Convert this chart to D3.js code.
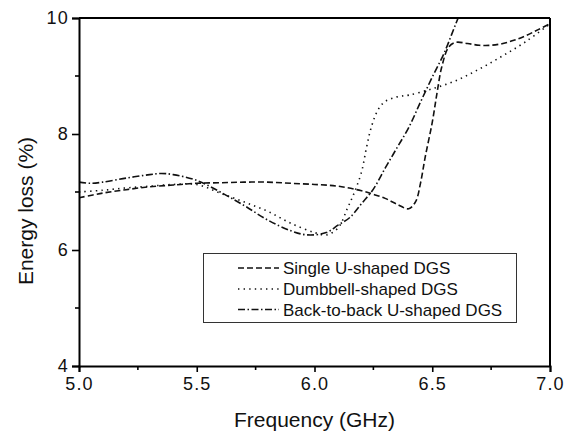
<!DOCTYPE HTML>
<html>
<head>
    <meta charset="UTF-8">
    <title></title>
    <style>
        body { margin: 0; background: #fff; }
        svg { font-family: "Liberation Sans", Arial, sans-serif; }
    </style>
    <script src="https://cdn.jsdelivr.net/npm/d3@7/dist/d3.min.js"></script>
</head>
<body>
<svg id="chart" width="572" height="439"></svg>
<script>
    // data
    var singleF = [5.0, 5.1, 5.2, 5.3, 5.4, 5.5, 5.6, 5.7, 5.8, 5.9, 6.0, 6.1, 6.2, 6.25, 6.3, 6.35, 6.4, 6.43, 6.45, 6.47, 6.5, 6.52, 6.54, 6.57, 6.6, 6.65, 6.7, 6.75, 6.8, 6.85, 6.9, 6.95, 7.0];
    var singleV = [6.9, 6.98, 7.04, 7.09, 7.12, 7.15, 7.16, 7.17, 7.17, 7.15, 7.13, 7.1, 7.02, 6.96, 6.89, 6.79, 6.71, 6.84, 7.15, 7.6, 8.2, 8.7, 9.15, 9.5, 9.58, 9.56, 9.53, 9.53, 9.56, 9.62, 9.7, 9.8, 9.9];

    var dumbF = [5.0, 5.1, 5.2, 5.3, 5.4, 5.5, 5.6, 5.7, 5.8, 5.9, 6.0, 6.05, 6.1, 6.14, 6.17, 6.2, 6.22, 6.24, 6.27, 6.3, 6.35, 6.4, 6.5, 6.6, 6.7, 6.8, 6.9, 7.0];
    var dumbV = [7.0, 7.03, 7.07, 7.1, 7.13, 7.13, 6.98, 6.83, 6.67, 6.46, 6.3, 6.26, 6.38, 6.72, 7.0, 7.35, 7.75, 8.1, 8.42, 8.56, 8.64, 8.67, 8.78, 8.92, 9.12, 9.35, 9.6, 9.9];

    var backF = [5.0, 5.05, 5.1, 5.2, 5.3, 5.35, 5.4, 5.5, 5.6, 5.7, 5.8, 5.9, 5.97, 6.05, 6.1, 6.15, 6.2, 6.25, 6.3, 6.35, 6.4, 6.45, 6.5, 6.55, 6.6, 6.65];
    var backV = [7.17, 7.15, 7.17, 7.24, 7.3, 7.32, 7.3, 7.2, 7.0, 6.77, 6.52, 6.33, 6.26, 6.3, 6.43, 6.56, 6.8, 7.05, 7.41, 7.76, 8.11, 8.55, 8.98, 9.39, 9.9, 10.4];

    var seriesNames = ["Single U-shaped DGS", "Dumbbell-shaped DGS", "Back-to-back U-shaped DGS"];
    var xTicks = [5.0, 5.5, 6.0, 6.5, 7.0];
    var yTicks = [4, 6, 8, 10];

    var series = [
        {name: seriesNames[0], f: singleF, v: singleV, dash: "6,3"},
        {name: seriesNames[1], f: dumbF, v: dumbV, dash: "1.4,4.2"},
        {name: seriesNames[2], f: backF, v: backV, dash: "7,2.5,1.5,2.5"}
    ];

    var plotL = 79, plotR = 550, plotT = 18, plotB = 366;
    var svg = d3.select("#chart");

    var x = d3.scaleLinear().domain([5, 7]).range([plotL, plotR]);
    var y = d3.scaleLinear().domain([4, 10]).range([plotB, plotT]);

    svg.append("clipPath").attr("id", "clip")
        .append("rect")
        .attr("x", plotL).attr("y", plotT)
        .attr("width", plotR - plotL).attr("height", plotB - plotT);

    var line = d3.line()
        .x(function (d) { return x(d[0]); })
        .y(function (d) { return y(d[1]); })
        .curve(d3.curveCatmullRom);

    svg.append("g").attr("clip-path", "url(#clip)")
        .selectAll("path")
        .data(series)
        .enter().append("path")
        .attr("d", function (s) { return line(d3.zip(s.f, s.v)); })
        .attr("fill", "none")
        .attr("stroke", "#111")
        .attr("stroke-width", 1.6)
        .attr("stroke-dasharray", function (s) { return s.dash; });

    // frame
    svg.append("line").attr("x1", plotL).attr("x2", plotR).attr("y1", plotT).attr("y2", plotT)
        .attr("stroke", "#000").attr("stroke-width", 2);
    svg.append("line").attr("x1", plotR).attr("x2", plotR).attr("y1", plotT).attr("y2", plotB)
        .attr("stroke", "#000").attr("stroke-width", 2);

    var xAxis = svg.append("g")
        .attr("transform", "translate(0," + plotB + ")")
        .call(d3.axisBottom(x).tickValues(xTicks).tickSize(6).tickPadding(5)
            .tickFormat(d3.format(".1f")));
    xAxis.append("g").selectAll("line")
        .data(d3.range(5.25, 7, 0.5))
        .enter().append("line")
        .attr("x1", function (d) { return x(d); }).attr("x2", function (d) { return x(d); })
        .attr("y1", 0).attr("y2", 4)
        .attr("stroke", "#000").attr("stroke-width", 1.6);

    var yAxis = svg.append("g")
        .attr("transform", "translate(" + plotL + ",0)")
        .call(d3.axisLeft(y).tickValues(yTicks).tickSize(7).tickPadding(3)
            .tickFormat(d3.format("d")));
    yAxis.append("g").selectAll("line")
        .data([5, 7, 9])
        .enter().append("line")
        .attr("y1", function (d) { return y(d); }).attr("y2", function (d) { return y(d); })
        .attr("x1", 0).attr("x2", -4)
        .attr("stroke", "#000").attr("stroke-width", 1.6);

    svg.selectAll(".domain").attr("stroke", "#000").attr("stroke-width", 2);
    svg.selectAll(".tick line").attr("stroke", "#000").attr("stroke-width", 1.6);
    svg.selectAll(".tick text")
        .attr("font-family", "'Liberation Sans', Arial, sans-serif")
        .attr("font-size", 18).attr("fill", "#111")
        .style("letter-spacing", "1.2px");

    svg.append("text")
        .attr("x", (plotL + plotR) / 2).attr("y", 427)
        .attr("text-anchor", "middle")
        .attr("font-size", 21).attr("fill", "#111")
        .text("Frequency (GHz)");

    svg.append("text")
        .attr("transform", "translate(33," + 211 + ") rotate(-90)")
        .attr("text-anchor", "middle")
        .attr("font-size", 21).attr("fill", "#111")
        .text("Energy loss (%)");

    // legend
    var legend = svg.append("g");
    legend.append("rect")
        .attr("x", 203.5).attr("y", 253.5).attr("width", 313).attr("height", 69)
        .attr("fill", "#fff").attr("stroke", "#333").attr("stroke-width", 1);
    var rows = legend.selectAll("g.row")
        .data(series)
        .enter().append("g")
        .attr("transform", function (d, i) { return "translate(0," + [268, 289, 309.5][i] + ")"; });
    rows.append("line")
        .attr("x1", 238).attr("x2", 279)
        .attr("stroke", "#111").attr("stroke-width", 1.6)
        .attr("stroke-dasharray", function (s) { return s.dash; });
    rows.append("text")
        .attr("x", 283).attr("dy", "0.36em")
        .attr("font-size", 17).attr("fill", "#111")
        .text(function (s) { return s.name; });
</script>
</body>
</html>
